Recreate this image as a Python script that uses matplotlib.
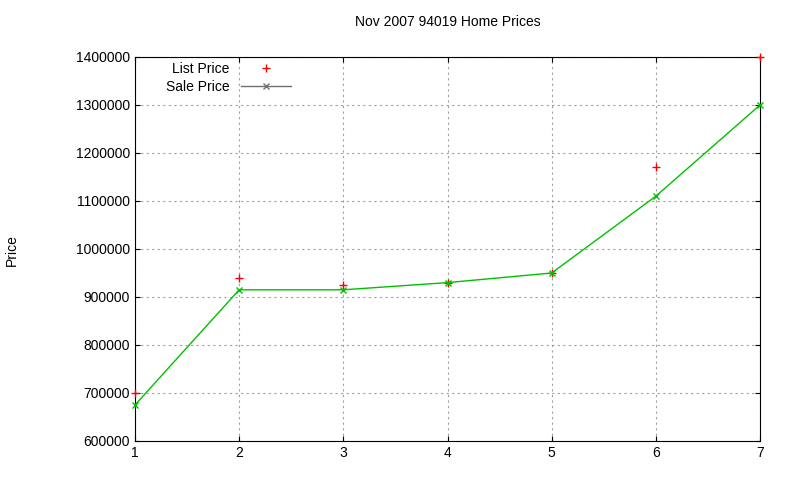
import matplotlib
matplotlib.use("Agg")
import matplotlib.pyplot as plt
from matplotlib.lines import Line2D

x = [1, 2, 3, 4, 5, 6, 7]
list_price = [700000, 940000, 925000, 930000, 950000, 1170000, 1400000]
sale_price = [675000, 915000, 915000, 930000, 950000, 1110000, 1300000]

plt.rcParams['font.family'] = ['Liberation Sans', 'DejaVu Sans']
fig = plt.figure(figsize=(8, 4.8), dpi=100)
ax = fig.add_axes([135/800, 1-441/480, 625/800, 384/480])
ax.plot(x, list_price, linestyle='none', marker='+', color='red', markersize=6, clip_on=False, zorder=3)
ax.plot(x, sale_price, color='#00c000', marker='x', markersize=5, linewidth=1, clip_on=False, zorder=3)
ax.set_xlim(1, 7)
ax.set_ylim(600000, 1400000)
ax.set_yticks(range(600000, 1400001, 100000))
ax.set_yticklabels([str(v) for v in range(600000, 1400001, 100000)])
ax.grid(True, color='#a0a0a0', linestyle=(0, (2, 3)), linewidth=0.8)
ax.tick_params(direction='in', labelsize=10, top=True, right=True)
ax.set_title('Nov 2007 94019 Home Prices', fontsize=10, pad=22)
fig.text(12/800, 1-250/480, 'Price', rotation=90, va='center', ha='center', fontsize=10)
handles = [Line2D([], [], linestyle='none', marker='+', color='red', markersize=6),
           Line2D([], [], color='#707070', marker='x', markersize=5, linewidth=1)]
leg = ax.legend(handles, ['List Price', 'Sale Price'], loc='upper left', bbox_to_anchor=(0.03, 1.02),
                frameon=False, markerfirst=False, fontsize=10, handlelength=3.6, labelspacing=0.3)
for t in leg.get_texts():
    t.set_ha('right')
fig.savefig('out.png', dpi=100)
